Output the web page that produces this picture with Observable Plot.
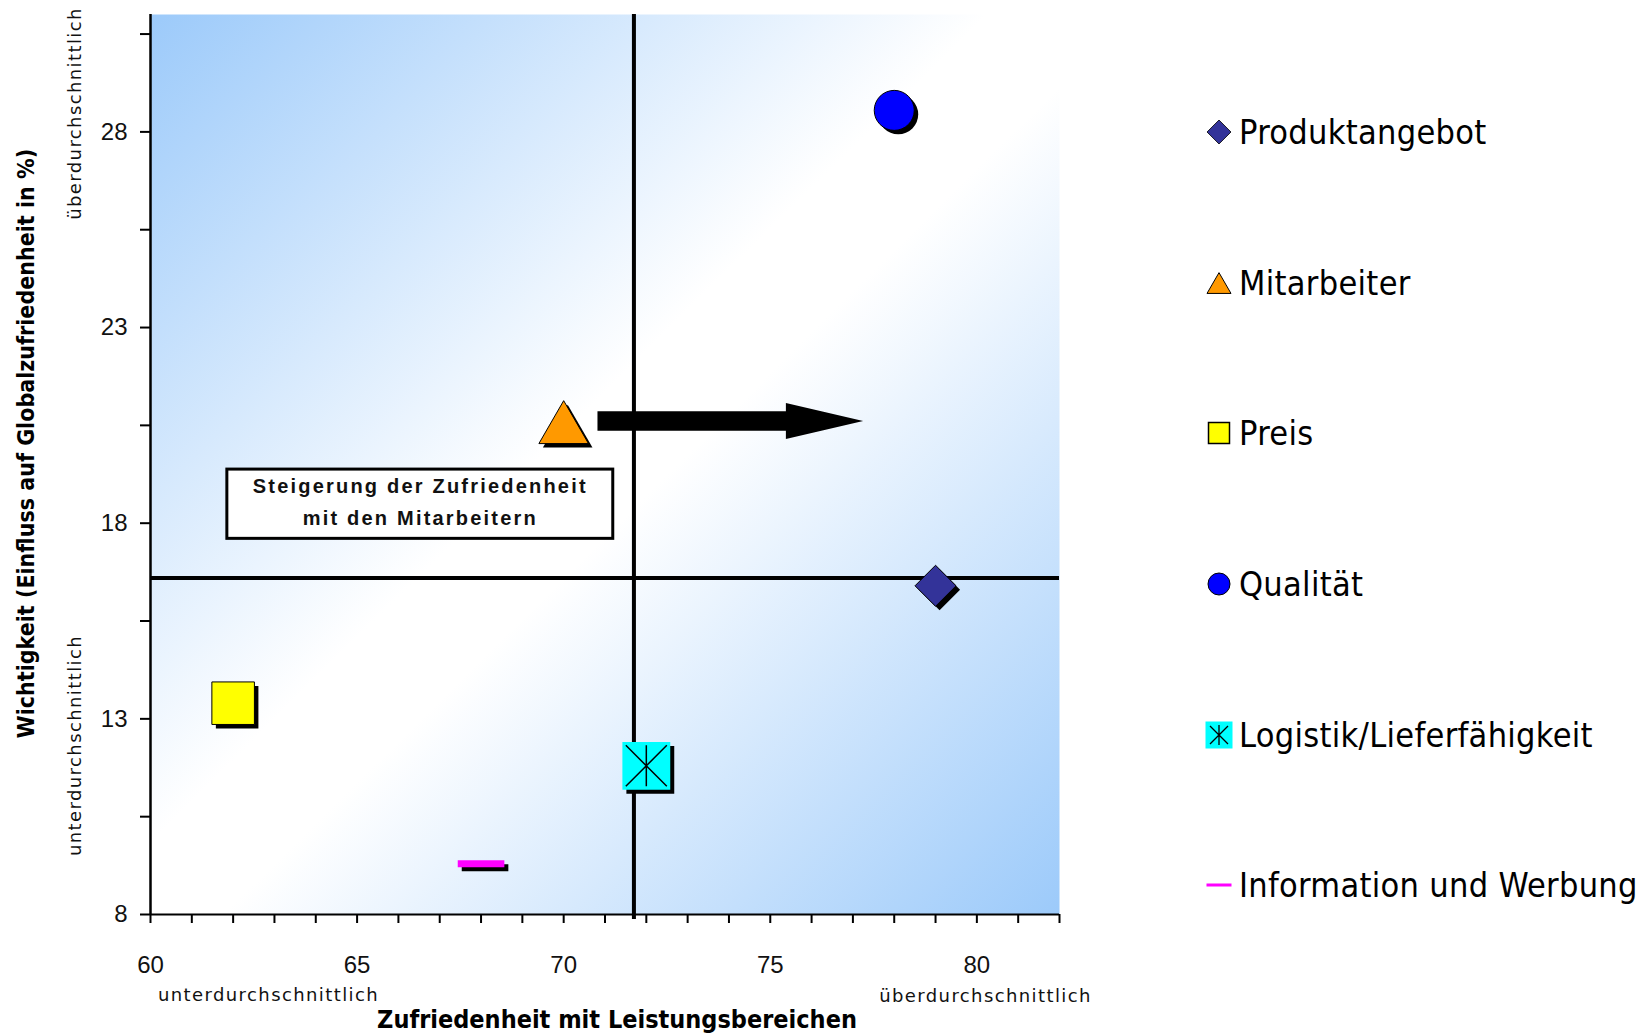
<!DOCTYPE html>
<html>
<head>
<meta charset="utf-8">
<script src="https://cdn.jsdelivr.net/npm/d3@7"></script>
<script src="https://cdn.jsdelivr.net/npm/@observablehq/plot@0.6"></script>
<style>
  html, body { margin: 0; padding: 0; background: #fff; }
  #wrap { position: relative; width: 1640px; height: 1033px; overflow: hidden; }
  #legend {
    position: absolute; left: 1204px; top: 57px;
    font-family: "DejaVu Sans Condensed", "DejaVu Sans", sans-serif;
    font-stretch: condensed; font-size: 34px; color: #000; letter-spacing: 0.3px;
  }
  #legend .row { display: flex; align-items: center; height: 150.6px; white-space: nowrap; }
  #legend svg { width: 30px; height: 30px; margin-right: 5px; flex: none; }
</style>
</head>
<body>
<div id="wrap"><div id="legend"></div></div>
<script>
// Leistungsbereiche: Zufriedenheit (x) gegen Wichtigkeit (y)
const categories = ["Produktangebot", "Mitarbeiter", "Preis", "Qualität", "Logistik/Lieferfähigkeit", "Information und Werbung"];
const satisfaction = [79.0, 70.0, 62.0, 78.0, 72.0, 68.0];
const importance = [16.4, 20.4, 13.4, 28.55, 11.8, 9.3];
const colors = ["#333399", "#FF9900", "#FFFF00", "#0000FF", "#00FFFF", "#FF00FF"];

// Quadrantengrenzen (Mittelwerte)
const avgSatisfaction = 71.7;
const avgImportance = 16.6;

// Achsen
const xTicks = [60, 61, 62, 63, 64, 65, 66, 67, 68, 69, 70, 71, 72, 73, 74, 75, 76, 77, 78, 79, 80, 81, 82];
const xTickLabels = [60, 65, 70, 75, 80];
const yTicks = [8, 10.5, 13, 15.5, 18, 20.5, 23, 25.5, 28, 30.5];
const yTickLabels = [8, 13, 18, 23, 28];
const xTitle = "Zufriedenheit mit Leistungsbereichen";
const yTitle = "Wichtigkeit (Einfluss auf Globalzufriedenheit in %)";
const lowLabel = "unterdurchschnittlich";
const highLabel = "überdurchschnittlich";

// Hinweis: Textfeld und Pfeil
const noteLines = ["Steigerung der Zufriedenheit", "mit den Mitarbeitern"];
const noteBoxX = [61.86, 71.2];
const noteBoxY = [17.6, 19.37];
const arrowX = [70.83, 75.39, 75.39, 77.26];
const arrowLow = [20.35, 20.35, 20.14, 20.6];
const arrowHigh = [20.85, 20.85, 21.06, 20.6];

// eigene Symbole
const asteriskSymbol = {
  draw(ctx, size) {
    const r = Math.sqrt(size / Math.PI);
    ctx.moveTo(-r, -r); ctx.lineTo(r, r);
    ctx.moveTo(r, -r); ctx.lineTo(-r, r);
    ctx.moveTo(0, -r); ctx.lineTo(0, r);
  }
};
const dashSymbol = {
  draw(ctx, size) {
    const r = Math.sqrt(size / Math.PI);
    ctx.rect(-r, -r * 0.15, 2 * r, r * 0.3);
  }
};

const markerStyle = [
  {symbol: "diamond2", r: 18.5, stroke: "black"},
  {symbol: "triangle", r: 18.4, stroke: "black"},
  {symbol: "square", r: 24, stroke: "black"},
  {symbol: "circle", r: 20, stroke: "black"},
  {symbol: "square", r: 27, stroke: "none", overlay: {symbol: asteriskSymbol, r: 20.5}},
  {symbol: dashSymbol, r: 23.3, stroke: "none"}
];

const points = categories.map((name, i) => ({name, x: satisfaction[i], y: importance[i]}));
const arrowRows = arrowX.map((x, i) => ({x, lo: arrowLow[i], hi: arrowHigh[i]}));
const noteRows = [{x1: noteBoxX[0], x2: noteBoxX[1], y1: noteBoxY[0], y2: noteBoxY[1],
  x: (noteBoxX[0] + noteBoxX[1]) / 2, y: (noteBoxY[0] + noteBoxY[1]) / 2, text: noteLines.join("\n")}];

const pointMarks = points.flatMap((p, i) => {
  const s = markerStyle[i];
  const marks = [
    Plot.dot([p], {x: "x", y: "y", symbol: s.symbol, r: s.r, fill: "black", stroke: "none", dx: 4, dy: 4}),
    Plot.dot([p], {x: "x", y: "y", symbol: s.symbol, r: s.r, fill: colors[i], stroke: s.stroke, strokeWidth: 1})
  ];
  if (s.overlay) {
    marks.push(Plot.dot([p], {x: "x", y: "y", symbol: s.overlay.symbol, r: s.overlay.r, fill: "none", stroke: "black", strokeWidth: 1.5}));
  }
  return marks;
});

const cond = "DejaVu Sans Condensed";
const small = {textAnchor: "middle", lineAnchor: "middle", fontFamily: "DejaVu Sans", fontSize: 18, fill: "#111"};

const chart = Plot.plot({
  width: 1640,
  height: 1033,
  marginLeft: 150,
  marginRight: 581,
  marginTop: 14,
  marginBottom: 119,
  style: {fontFamily: "Liberation Sans", background: "transparent", overflow: "visible"},
  x: {domain: [60, 82]},
  y: {domain: [8, 31]},
  marks: [
    Plot.frame({fill: "url(#plotGradient)", stroke: "none"}),
    // Quadranten
    Plot.ruleY([avgImportance], {stroke: "black", strokeWidth: 4}),
    Plot.ruleX([avgSatisfaction], {stroke: "black", strokeWidth: 4, insetBottom: -5}),
    // Achsenlinien und Striche
    Plot.ruleX([60], {stroke: "black", strokeWidth: 2.5}),
    Plot.ruleY([8], {stroke: "black", strokeWidth: 2}),
    Plot.axisX({ticks: xTicks, tickSize: 9, tickFormat: () => "", stroke: "black", strokeWidth: 2, label: null}),
    Plot.axisX({ticks: xTickLabels, tickSize: 0, tickPadding: 41, fontSize: 24, fontFamily: "Liberation Sans", fill: "#111", label: null}),
    Plot.axisY({ticks: yTicks, tickSize: 10, tickFormat: () => "", stroke: "black", strokeWidth: 2, label: null}),
    Plot.axisY({ticks: yTickLabels, tickSize: 0, tickPadding: 23, fontSize: 24, fontFamily: "Liberation Sans", fill: "#111", label: null}),
    // Achsentitel und Zusatzbeschriftungen
    Plot.text([xTitle], {frameAnchor: "bottom", dx: 12, dy: 105, lineAnchor: "middle", fontFamily: cond, fontWeight: "bold", fontSize: 25, fill: "black"}),
    Plot.text([yTitle], {frameAnchor: "left", dx: -124, dy: -21, rotate: -90, textAnchor: "middle", lineAnchor: "middle", fontFamily: cond, fontWeight: "bold", fontSize: 23, fill: "black"}),
    Plot.text([lowLabel], {...small, frameAnchor: "bottom-left", dx: 118, dy: 81}),
    Plot.text([highLabel], {...small, frameAnchor: "bottom-right", dx: -74, dy: 82}),
    Plot.text([highLabel], {...small, frameAnchor: "top-left", dx: -75, dy: 99, rotate: -90}),
    Plot.text([lowLabel], {...small, frameAnchor: "bottom-left", dx: -75, dy: -169, rotate: -90}),
    // Hinweis
    Plot.rect(noteRows, {x1: "x1", x2: "x2", y1: "y1", y2: "y2", fill: "white", stroke: "black", strokeWidth: 3}),
    Plot.text(noteRows, {x: "x", y: "y", dy: -5, text: "text", lineHeight: 1.6, fontFamily: "Liberation Sans", fontWeight: "bold", fontSize: 20, fill: "#111"}),
    Plot.area(arrowRows, {x1: "x", y1: "lo", y2: "hi", fill: "black"}),
    // Leistungsbereiche
    ...pointMarks
  ]
});

// Verlauf für den Diagrammhintergrund
const defs = d3.select(chart).insert("defs", ":first-child");
const grad = defs.append("linearGradient").attr("id", "plotGradient")
  .attr("x1", 0).attr("y1", 0).attr("x2", 1).attr("y2", 1);
grad.append("stop").attr("offset", 0).attr("stop-color", "#9ccafa");
grad.append("stop").attr("offset", 0.46).attr("stop-color", "#ffffff");
grad.append("stop").attr("offset", 0.54).attr("stop-color", "#ffffff");
grad.append("stop").attr("offset", 1).attr("stop-color", "#9ccafa");

// Sperrung der Zusatzbeschriftungen und des Hinweistextes
d3.select(chart).selectAll("text")
  .filter(function() { return this.textContent === lowLabel || this.textContent === highLabel; })
  .attr("letter-spacing", "1.4px");
d3.select(chart).selectAll("text")
  .filter(function() { return this.textContent.startsWith(noteLines[0]); })
  .attr("letter-spacing", "2.2px");

chart.style.position = "absolute";
chart.style.left = "0";
chart.style.top = "0";
document.getElementById("wrap").prepend(chart);

// Legende
const legendSymbols = [
  (g) => g.append("path").attr("d", d3.symbol(d3.symbolDiamond2, 367)()).attr("transform", "translate(15,15)").attr("fill", colors[0]).attr("stroke", "black").attr("stroke-width", 0.8),
  (g) => g.append("path").attr("d", d3.symbol(d3.symbolTriangle, 249)()).attr("transform", "translate(15,18.5)").attr("fill", colors[1]).attr("stroke", "black").attr("stroke-width", 1),
  (g) => g.append("rect").attr("x", 4.5).attr("y", 4.5).attr("width", 21).attr("height", 21).attr("fill", colors[2]).attr("stroke", "black").attr("stroke-width", 1.5),
  (g) => g.append("circle").attr("cx", 15).attr("cy", 15).attr("r", 11).attr("fill", colors[3]).attr("stroke", "black").attr("stroke-width", 1),
  (g) => {
    g.append("rect").attr("x", 1.5).attr("y", 1.5).attr("width", 27).attr("height", 27).attr("fill", colors[4]);
    g.append("path").attr("d", "M6,6L24,24M24,6L6,24M15,5L15,25").attr("stroke", "black").attr("stroke-width", 1.3).attr("fill", "none");
  },
  (g) => g.append("rect").attr("x", 2.5).attr("y", 13.5).attr("width", 25).attr("height", 3).attr("fill", colors[5])
];

const legend = d3.select("#legend");
categories.forEach((name, i) => {
  const row = legend.append("div").attr("class", "row");
  const svg = row.append("svg").attr("viewBox", "0 0 30 30");
  legendSymbols[i](svg);
  row.append("span").text(name);
});
</script>
</body>
</html>
